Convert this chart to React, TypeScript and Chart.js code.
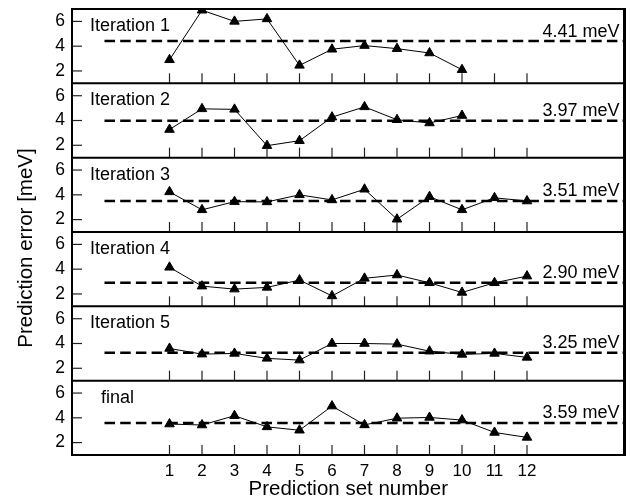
import React, { useEffect, useRef } from 'react';
import { Chart, registerables } from 'chart.js';

Chart.register(...registerables);

// ---- data ----
const setNumbers = [1, 2, 3, 4, 5, 6, 7, 8, 9, 10, 11, 12];
const panelLabels = ['Iteration 1', 'Iteration 2', 'Iteration 3', 'Iteration 4', 'Iteration 5', 'final'];
const meanValues = [4.41, 3.97, 3.51, 2.9, 3.25, 3.59];
const meanLabels = ['4.41 meV', '3.97 meV', '3.51 meV', '2.90 meV', '3.25 meV', '3.59 meV'];
const iteration1 = [2.9, 6.9, 6.0, 6.2, 2.45, 3.75, 4.05, 3.8, 3.45, 2.1];
const iteration2 = [3.27, 4.94, 4.9, 1.97, 2.37, 4.27, 5.1, 4.06, 3.8, 4.4];
const iteration3 = [4.24, 2.79, 3.45, 3.43, 4.0, 3.59, 4.45, 2.03, 3.85, 2.79, 3.76, 3.5];
const iteration4 = [4.15, 2.63, 2.39, 2.53, 3.12, 1.84, 3.26, 3.53, 2.9, 2.12, 2.9, 3.44];
const iteration5 = [3.6, 3.14, 3.2, 2.8, 2.66, 4.0, 4.0, 3.95, 3.38, 3.12, 3.2, 2.88];
const finalSet = [3.5, 3.42, 4.17, 3.27, 3.0, 4.95, 3.43, 3.97, 4.03, 3.82, 2.82, 2.42];
const yTickValues = [2, 4, 6];
const yRange = [1, 7];
const xRange = [-2, 15];
const meanSpan = [-1, 15];
const xTitle = 'Prediction set number';
const yTitle = 'Prediction error [meV]';

const series = [iteration1, iteration2, iteration3, iteration4, iteration5, finalSet];
const FONT = "'Liberation Sans', Arial, Helvetica, sans-serif";

export default function App() {
  const ref = useRef<HTMLCanvasElement | null>(null);

  useEffect(() => {
    if (!ref.current) return;
    Chart.defaults.font.family = FONT;
    Chart.defaults.color = '#000';

    const datasets: any[] = [];
    series.forEach((vals, i) => {
      datasets.push({
        data: vals.map((v, j) => ({ x: setNumbers[j], y: v })),
        yAxisID: 'y' + i,
        borderColor: '#000',
        backgroundColor: '#000',
        borderWidth: 1,
        pointStyle: 'triangle',
        pointRadius: 5.5,
        pointBorderWidth: 1,
        pointBackgroundColor: '#000',
        pointBorderColor: '#000',
        tension: 0,
        fill: false,
        order: 0,
      });
      datasets.push({
        data: meanSpan.map((x) => ({ x, y: meanValues[i] })),
        yAxisID: 'y' + i,
        borderColor: '#000',
        borderWidth: 2.5,
        borderDash: [10.5, 5.2],
        pointRadius: 0,
        fill: false,
        order: 1,
      });
    });

    const scales: any = {
      x: {
        type: 'linear',
        min: xRange[0],
        max: xRange[1],
        afterBuildTicks: (s: any) => {
          s.ticks = setNumbers.map((v) => ({ value: v }));
        },
        grid: { display: false, drawTicks: false },
        border: { display: false },
        ticks: { font: { size: 17 }, color: '#000', padding: 6, maxRotation: 0, autoSkip: false },
        title: {
          display: true,
          text: xTitle,
          color: '#000',
          font: { size: 20.5, lineHeight: 0.9 },
          padding: { top: 0, bottom: 0 },
        },
        afterFit: (s: any) => {
          s.height = 44;
          s.paddingLeft = 0;
          s.paddingRight = 0;
        },
      },
    };
    // stacked panels: the last-defined stacked axis is laid out at the top
    for (let i = series.length - 1; i >= 0; i--) {
      scales['y' + i] = {
        type: 'linear',
        position: 'left',
        stack: 'panels',
        stackWeight: 1,
        min: yRange[0],
        max: yRange[1],
        afterBuildTicks: (s: any) => {
          s.ticks = yTickValues.map((v) => ({ value: v }));
        },
        grid: { display: false, drawTicks: false },
        border: { display: false },
        ticks: { font: { size: 17.5 }, color: '#000', padding: 7, autoSkip: false },
        afterFit: (s: any) => {
          s.width = 72;
          s.paddingTop = 0;
          s.paddingBottom = 0;
        },
      };
    }

    const panelPlugin = {
      id: 'panelDecor',
      afterDraw(chart: any) {
        const ctx: CanvasRenderingContext2D = chart.ctx;
        const ca = chart.chartArea;
        const sc = chart.scales;
        const xs = sc.x;
        const L = ca.left;
        const R = ca.right;

        ctx.save();
        ctx.setLineDash([]);
        ctx.globalAlpha = 1;
        // inward tick marks for every panel
        ctx.strokeStyle = '#222222';
        ctx.lineWidth = 1.2;
        for (let i = 0; i < series.length; i++) {
          const ys = sc['y' + i];
          const bottom = ys.bottom;
          for (const t of setNumbers) {
            const px = xs.getPixelForValue(t);
            ctx.beginPath();
            ctx.moveTo(px, bottom);
            ctx.lineTo(px, bottom - 10);
            ctx.stroke();
          }
          for (const t of yTickValues) {
            const py = ys.getPixelForValue(t);
            ctx.beginPath();
            ctx.moveTo(L, py);
            ctx.lineTo(L + 10, py);
            ctx.stroke();
          }
        }

        // frame and panel separators
        ctx.strokeStyle = '#000';
        ctx.lineWidth = 2;
        ctx.strokeRect(L, ca.top, R - L, ca.bottom - ca.top);
        for (let i = 1; i < series.length; i++) {
          const ys = sc['y' + i];
          ctx.beginPath();
          ctx.moveTo(L, ys.top);
          ctx.lineTo(R, ys.top);
          ctx.stroke();
        }
        ctx.lineWidth = 3;
        ctx.beginPath();
        ctx.moveTo(R, ca.top - 1);
        ctx.lineTo(R, ca.bottom + 1);
        ctx.stroke();

        // panel texts
        ctx.fillStyle = '#000';
        ctx.font = `18px ${FONT}`;
        ctx.textBaseline = 'alphabetic';
        for (let i = 0; i < series.length; i++) {
          const ys = sc['y' + i];
          ctx.textAlign = 'left';
          const lx = i === series.length - 1 ? L + 29 : L + 18;
          ctx.fillText(panelLabels[i], lx, ys.top + 22);
          ctx.textAlign = 'right';
          ctx.fillText(meanLabels[i], R - 5, ys.getPixelForValue(meanValues[i]) - 4.5);
        }

        // y-axis title
        ctx.font = `20.5px ${FONT}`;
        ctx.translate(31.7, 248);
        ctx.rotate(-Math.PI / 2);
        ctx.textAlign = 'center';
        ctx.fillText(yTitle, 0, 0);
        ctx.restore();
      },
    };

    const chart = new Chart(ref.current, {
      type: 'line',
      data: { datasets },
      options: {
        responsive: false,
        animation: false,
        events: [],
        layout: { padding: { left: 0, right: 6, top: 9, bottom: 0 } },
        plugins: { legend: { display: false }, tooltip: { enabled: false } },
        scales,
      },
      plugins: [panelPlugin],
    } as any);
    return () => chart.destroy();
  }, []);

  return (
    <div style={{ position: 'fixed', left: 0, top: 0, width: 631, height: 499, background: '#fff' }}>
      <canvas ref={ref} width={631} height={499} style={{ width: 631, height: 499, display: 'block' }} />
    </div>
  );
}
